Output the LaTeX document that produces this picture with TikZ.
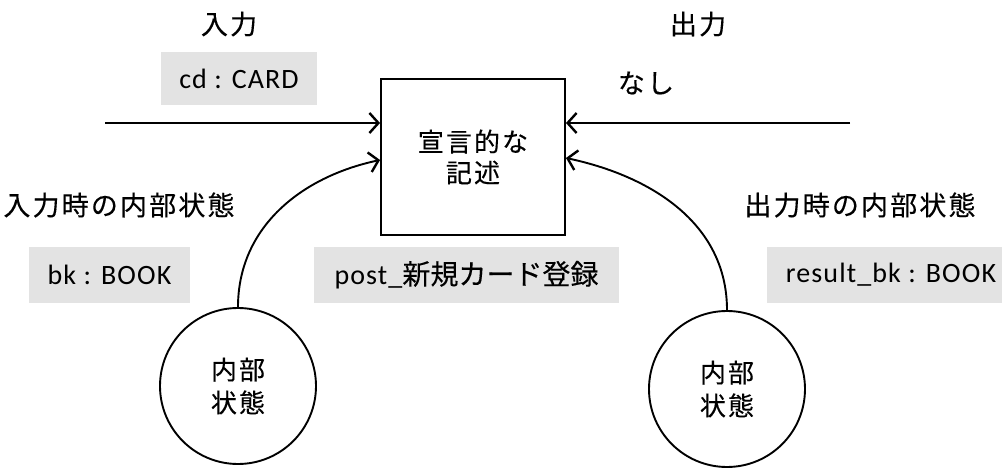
\documentclass[tikz,border=0pt]{standalone}
\usepackage{fontspec}
\setmainfont{Carlito}
\newfontfamily\jp{Noto Sans CJK JP}[LetterSpace=8,FakeBold=0.3]
\newfontfamily\jpn{Noto Sans CJK JP}[FakeBold=0.3]
\newfontfamily\lat{Carlito}[LetterSpace=4]
\usetikzlibrary{arrows.meta}
\definecolor{boxgray}{RGB}{227,227,227}
\begin{document}
\begin{tikzpicture}[x=1pt,y=-1pt,
  line width=1.9pt,
  arr/.style={-{Straight Barb[length=9pt,width=20pt,line width=2.4pt]}},
  lbl/.style={inner sep=0pt,font=\jp\fontsize{27}{30}\selectfont},
  tag/.style={fill=boxgray,inner sep=0pt,font=\lat\fontsize{28}{32}\selectfont},
  proc/.style={draw,line width=1.9pt,minimum width=184pt,minimum height=156pt,inner sep=0pt,align=center,font=\jp\fontsize{26}{31}\selectfont},
  state/.style={draw,circle,line width=1.9pt,minimum size=156pt,inner sep=0pt,align=center,font=\jp\fontsize{26}{33}\selectfont}]
\useasboundingbox (0,0) rectangle (1002,468);
% process box
\node[proc] (box) at (473,157) {宣言的な\\記述};
% state circles
\node[state] (ls) at (238,386) {内部\\状態};
\node[state] (rs) at (727,389) {内部\\状態};
% labels
\node[lbl] (in) at (229,24) {入力};
\node[lbl] (out) at (698,24) {出力};
\node[lbl] (none) at (646,83) {なし};
\node[lbl] (ins) at (119,205) {入力時の内部状態};
\node[lbl] (outs) at (860,205) {出力時の内部状態};
% gray tags
\node[tag,minimum width=156pt,minimum height=53pt] (cd) at (239,78.5) {cd : CARD};
\node[tag,minimum width=161pt,minimum height=56pt] (bk) at (109.5,275) {bk : BOOK};
\node[tag,minimum width=305pt,minimum height=56pt] (post) at (466.5,275) {post\_{\jpn 新規カード登録}};
\node[tag,minimum width=240pt,minimum height=56pt,anchor=west] (rbk) at (766,275) {\hspace{8pt}result\_bk : BOOK};
% connector endpoints
\coordinate (inStart) at (105,123);
\coordinate (outStart) at (850,123);
\coordinate (boxInTop) at (box.west |- inStart);
\coordinate (boxOutTop) at (box.east |- outStart);
\coordinate (boxInLow) at ([yshift=-3pt]box.west);
\coordinate (boxOutLow) at ([yshift=-1pt]box.east);
% connectors
\draw[arr] (inStart) -- (boxInTop);
\draw[arr] (outStart) -- (boxOutTop);
\draw[arr] (ls.north) to[out=90,in=192] (boxInLow);
\draw[arr] (rs.north) to[out=90,in=-12] (boxOutLow);
\end{tikzpicture}
\end{document}
